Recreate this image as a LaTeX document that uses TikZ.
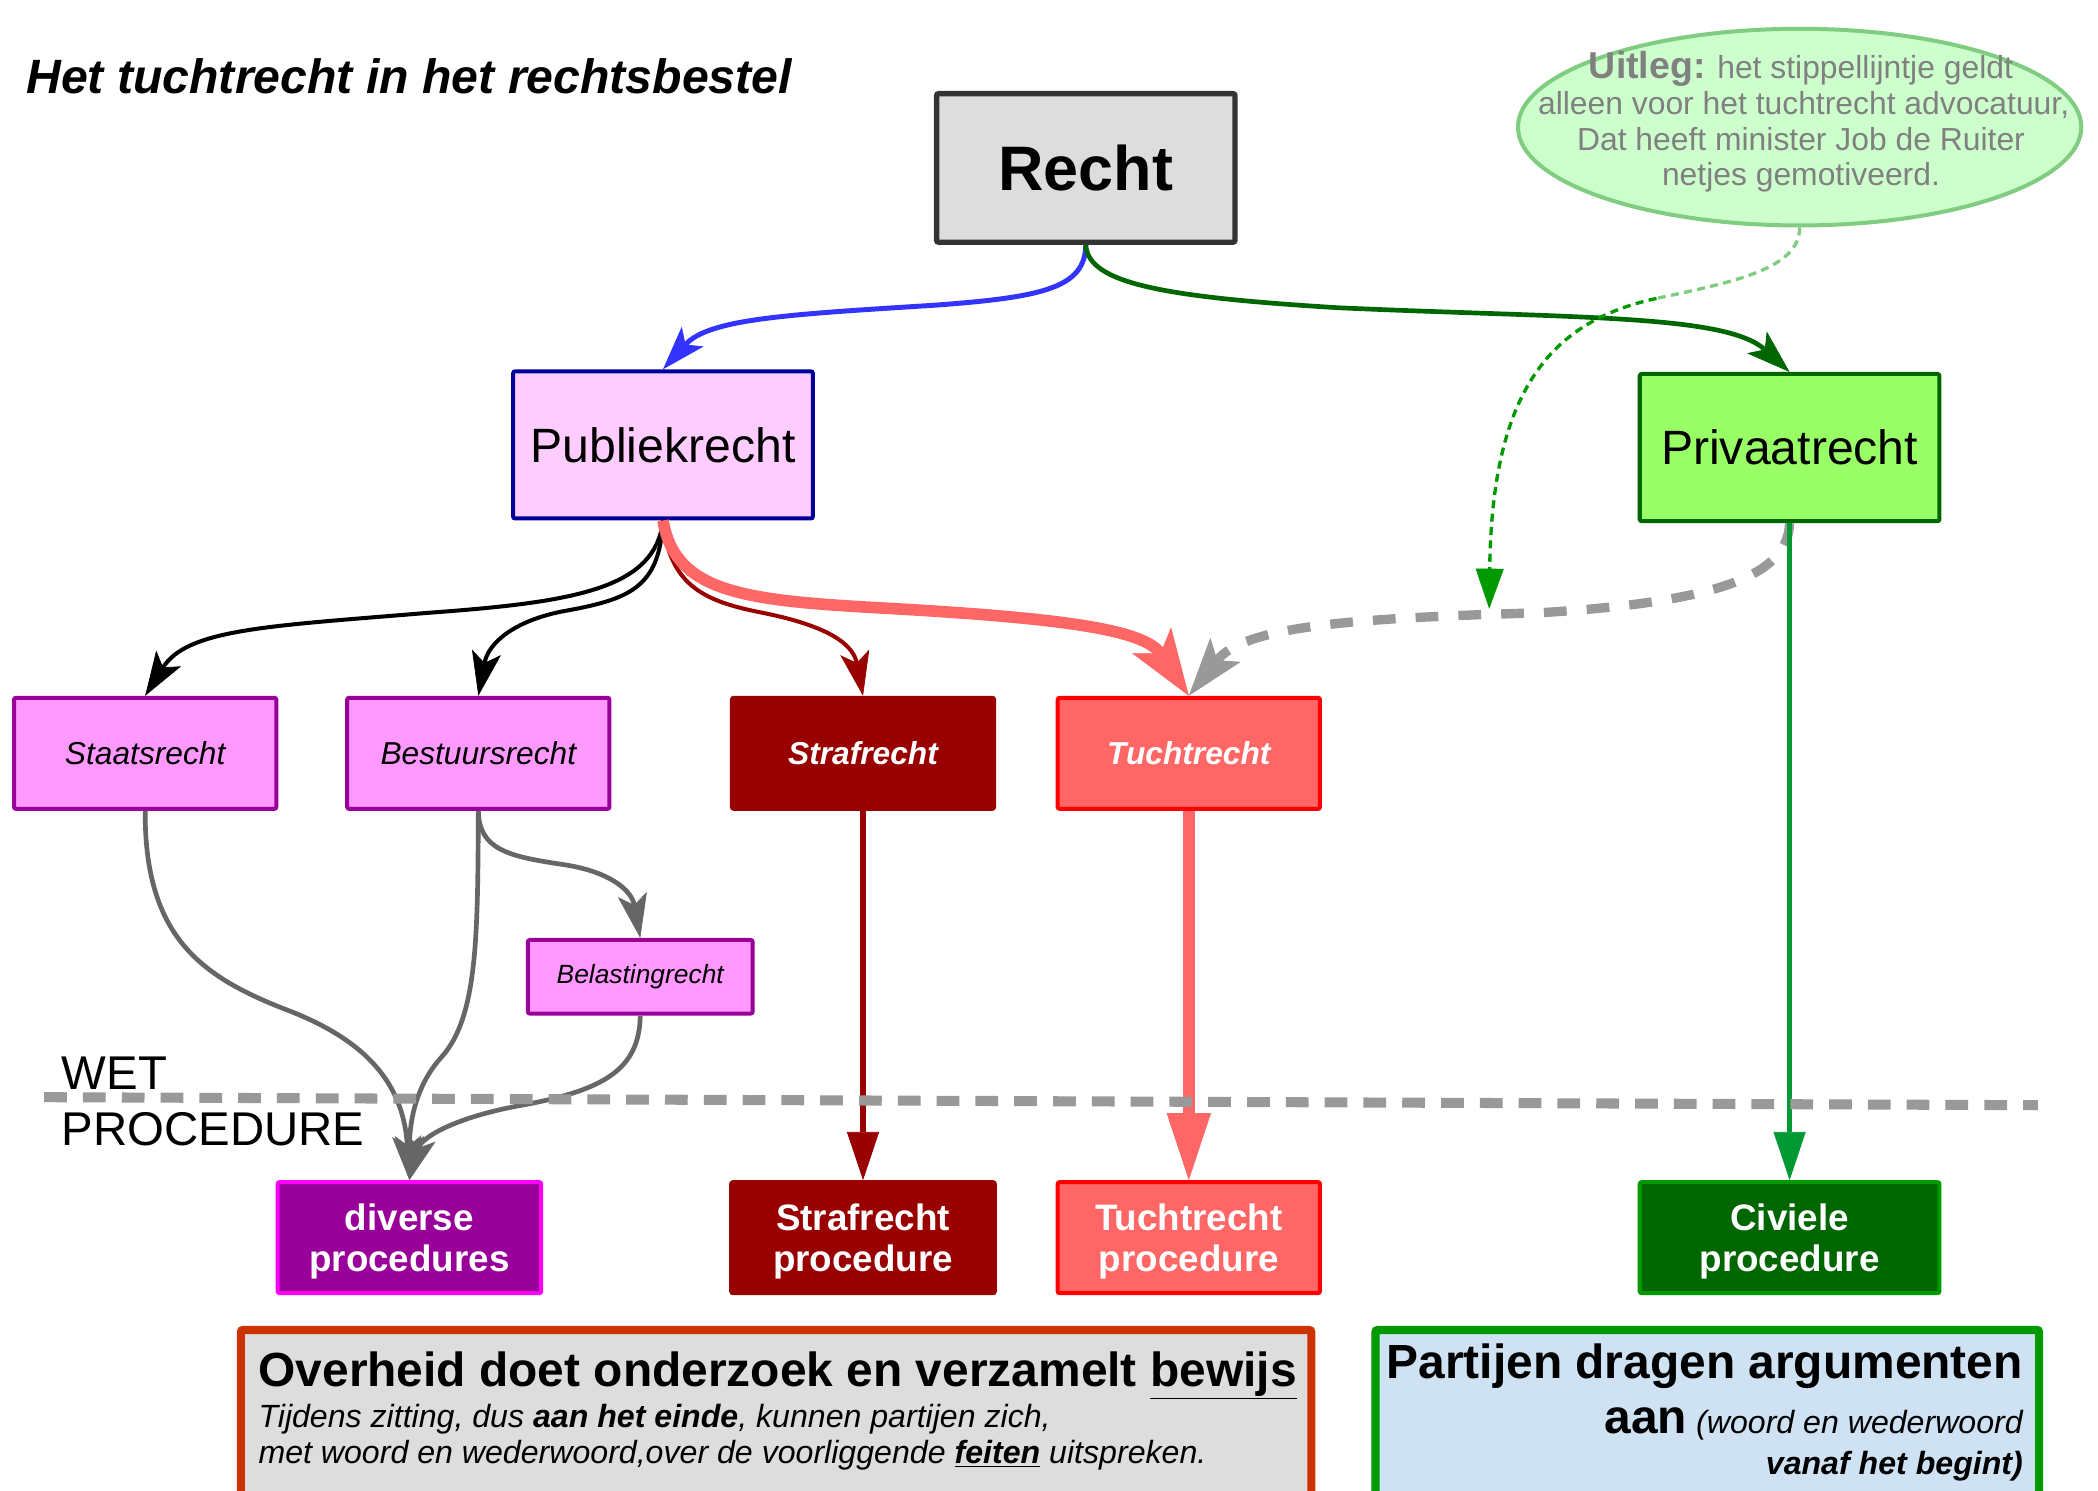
\documentclass[tikz,border=0pt]{standalone}
\usepackage{fontspec}
\setmainfont{Liberation Sans}
\usetikzlibrary{arrows.meta,shapes.geometric}

\definecolor{cRecht}{HTML}{DDDDDD}
\definecolor{cRechtL}{HTML}{333333}
\definecolor{cPub}{HTML}{FFCCFF}
\definecolor{cPubL}{HTML}{000099}
\definecolor{cPriv}{HTML}{99FF66}
\definecolor{cPrivL}{HTML}{006600}
\definecolor{cSub}{HTML}{FF99FF}
\definecolor{cSubL}{HTML}{990099}
\definecolor{cStraf}{HTML}{990000}
\definecolor{cTucht}{HTML}{FF6666}
\definecolor{cTuchtL}{HTML}{FF0000}
\definecolor{cDiv}{HTML}{990099}
\definecolor{cDivL}{HTML}{FF00FF}
\definecolor{cCiv}{HTML}{006600}
\definecolor{cCivL}{HTML}{009900}
\definecolor{cOvhL}{HTML}{CC3300}
\definecolor{cPar}{HTML}{CFE2F3}
\definecolor{cParL}{HTML}{009900}
\definecolor{cUitleg}{HTML}{CCFFCC}
\definecolor{cUitlegL}{HTML}{80CC80}
\definecolor{cUitlegT}{HTML}{808080}
\definecolor{cBlue}{HTML}{3333FF}
\definecolor{cGreenA}{HTML}{006600}
\definecolor{cCivA}{HTML}{009933}
\definecolor{cDot}{HTML}{009900}
\definecolor{cDash}{HTML}{999999}
\definecolor{cGrayA}{HTML}{666666}

\begin{document}
\begin{tikzpicture}[x=1pt,y=-1pt,
  box/.style={rectangle, inner sep=0pt, line width=3pt, rounded corners=1.5pt},
  sub/.style={box, minimum width=196pt, minimum height=83pt, font=\fontsize{23.7}{28}\selectfont\itshape},
  proc/.style={box, minimum height=83pt},
  proctext/.style={inner sep=0pt, align=center, text=white, font=\fontsize{27.5}{31}\selectfont\bfseries},
  tipM/.style={-{Stealth[length=33pt,width=22pt,inset=8pt,line width=0.5pt]}},
  tipL/.style={-{Stealth[length=50pt,width=35pt,inset=12pt,line width=0.5pt]}},
  tipG/.style={-{Stealth[length=44pt,width=29pt,inset=10pt,line width=0.5pt]}},
  tipT/.style={-{Triangle[length=36pt,width=24pt,line width=0.5pt]}},
  tipTL/.style={-{Triangle[length=50pt,width=33pt,line width=0.5pt]}},
  tipD/.style={-{Triangle[length=30pt,width=21pt,line width=0.5pt]}},
  grayconn/.style={cGrayA, line width=3.5pt, tipM},
  blackconn/.style={black, line width=3pt, tipM},
  bubbletext/.style={anchor=base, inner sep=0pt, text=cUitlegT, font=\fontsize{23.8}{27}\selectfont},
  plain/.style={inner sep=0pt}
]
\clip (0,0) rectangle (1568,1114);
\fill[white] (0,0) rectangle (1568,1114);

% title
\node[plain, anchor=base west, font=\fontsize{36}{40}\selectfont\bfseries\itshape] (title) at (19.5,69.7) {Het tuchtrecht in het rechtsbestel};

% explanation bubble
\node[ellipse, draw=cUitlegL, fill=cUitleg, line width=3pt, minimum width=421pt, minimum height=147pt, inner sep=0pt] (uitleg) at (1345,95) {};
\node[bubbletext] (u1) at (1346,58.5) {{\fontsize{28}{27}\selectfont\bfseries Uitleg:} het stippellijntje geldt};
\node[bubbletext] (u2) at (1348,85.5) {alleen voor het tuchtrecht advocatuur,};
\node[bubbletext] (u3) at (1346,112.5) {Dat heeft minister Job de Ruiter};
\node[bubbletext] (u4) at (1346,139) {netjes gemotiveerd.};

% main hierarchy
\node[box, draw=cRechtL, fill=cRecht, line width=4pt, minimum width=223pt, minimum height=111pt, font=\fontsize{47}{50}\selectfont\bfseries] (recht) at (811.5,125.5) {Recht};
\node[box, draw=cPubL, fill=cPub, minimum width=224pt, minimum height=110pt, font=\fontsize{36}{40}\selectfont] (publiek) at (495.5,332.5) {Publiekrecht};
\node[box, draw=cPrivL, fill=cPriv, minimum width=224pt, minimum height=110pt, font=\fontsize{36}{40}\selectfont] (privaat) at (1337.5,334.5) {Privaatrecht};

\node[sub, draw=cSubL, fill=cSub] (staats) at (108.5,563) {Staatsrecht};
\node[sub, draw=cSubL, fill=cSub] (bestuur) at (357.5,563) {Bestuursrecht};
\node[sub, draw=cStraf, fill=cStraf, text=white, font=\fontsize{23.7}{28}\selectfont\bfseries\itshape] (straf) at (645,563) {Strafrecht};
\node[sub, draw=cTuchtL, fill=cTucht, text=white, font=\fontsize{23.7}{28}\selectfont\bfseries\itshape] (tucht) at (888.5,563) {Tuchtrecht};
\node[box, draw=cSubL, fill=cSub, minimum width=168pt, minimum height=55pt, font=\fontsize{19.7}{24}\selectfont\itshape] (belasting) at (478.5,730) {Belastingrecht};

% procedure boxes and their labels
\node[proc, draw=cDivL, fill=cDiv, minimum width=197pt] (diverse) at (306,925) {};
\node[proc, draw=cStraf, fill=cStraf, minimum width=197pt] (strafp) at (645,925) {};
\node[proc, draw=cTuchtL, fill=cTucht, minimum width=196pt] (tuchtp) at (888.5,925) {};
\node[proc, draw=cCivL, fill=cCiv, minimum width=224pt] (civiel) at (1337.5,925) {};
\node[proctext] (diverseT) at (306,928) {diverse\\procedures};
\node[proctext] (strafpT) at (645,928) {Strafrecht\\procedure};
\node[proctext] (tuchtpT) at (888.5,928) {Tuchtrecht\\procedure};
\node[proctext] (civielT) at (1337.5,928) {Civiele\\procedure};

% bottom explanation boxes
\node[box, draw=cOvhL, fill=cRecht, line width=6pt, minimum width=800pt, minimum height=140pt, anchor=north] (overheid) at (580,991) {};
\node[plain, anchor=base west, font=\fontsize{35.8}{40}\selectfont\bfseries] (ov1) at (193,1036) {Overheid doet onderzoek en verzamelt \underline{bewijs}};
\node[plain, anchor=base west, font=\fontsize{24}{28}\selectfont\itshape] (ov2) at (193,1066.5) {Tijdens zitting, dus \textbf{aan het einde}, kunnen partijen zich,};
\node[plain, anchor=base west, font=\fontsize{24}{28}\selectfont\itshape] (ov3) at (193,1094) {met woord en wederwoord,over de voorliggende \underline{\textbf{feiten}} uitspreken.};

\node[box, draw=cParL, fill=cPar, line width=6pt, minimum width=496pt, minimum height=140pt, anchor=north] (partijen) at (1276,991) {};
\node[plain, anchor=base east, font=\fontsize{35.8}{40}\selectfont\bfseries] (pa1) at (1512,1030) {Partijen dragen argumenten};
\node[plain, anchor=base east, font=\fontsize{24}{28}\selectfont\itshape] (pa2) at (1512,1071) {{\fontsize{35.8}{40}\selectfont\bfseries\upshape aan} (woord en wederwoord};
\node[plain, anchor=base east, font=\fontsize{24}{28}\selectfont\bfseries\itshape] (pa3) at (1512,1102) {vanaf het begint)};

% connectors from Recht
\draw[cBlue, line width=3.7pt, tipM] (recht.south) .. controls (811,215) and (780,222) .. (700,228) .. controls (590,235) and (530,238) .. (publiek.north);
\draw[cGreenA, line width=3.5pt, tipM] (recht.south) .. controls (813,212) and (870,222) .. (1000,230) .. controls (1180,238) and (1290,235) .. (privaat.north);

% connectors from Publiekrecht
\draw[blackconn] (publiek.south) .. controls (490,440) and (430,450) .. (320,458) .. controls (200,468) and (140,470) .. (staats.north);
\draw[blackconn] (publiek.south) .. controls (493,440) and (470,448) .. (420,457) .. controls (385,464) and (365,480) .. (bestuur.north);
\draw[cStraf, line width=3pt, tipM] (publiek.south) .. controls (500,440) and (530,450) .. (570,458) .. controls (610,466) and (637,478) .. (straf.north);
\draw[cTucht, line width=8.7pt, tipL] (publiek.south) .. controls (505,445) and (560,449) .. (670,455) .. controls (790,462) and (855,470) .. (tucht.north);

% Privaatrecht also feeds Tuchtrecht
\draw[cDash, line width=7pt, dash pattern=on 17pt off 15pt, tipG] (privaat.south) .. controls (1336,430) and (1285,450) .. (1150,458) .. controls (1010,462) and (930,468) .. (tucht.north);

% pointer from the bubble
\coordinate (gmid) at (1238,223);
\coordinate (gtip) at (1113,455);
\draw[cUitlegL, line width=2.5pt, dash pattern=on 6pt off 4pt] (uitleg.south) .. controls (1345,200) and (1300,210) .. (gmid);
\draw[cDot, line width=2.5pt, dash pattern=on 6pt off 4pt, tipD] (gmid) .. controls (1160,240) and (1115,290) .. (gtip);

% lower connectors
\draw[grayconn] (staats.south) .. controls (108,700) and (150,730) .. (215,755) .. controls (280,780) and (302,815) .. (diverse.north);
\draw[grayconn] (bestuur.south) .. controls (357,700) and (357,760) .. (330,790) .. controls (310,812) and (306,840) .. (diverse.north);
\draw[grayconn] (bestuur.south) .. controls (358,635) and (380,640) .. (420,646) .. controls (455,651) and (472,665) .. (belasting.north);
\draw[grayconn] (belasting.south) .. controls (478,800) and (450,815) .. (390,826) .. controls (340,835) and (315,850) .. (diverse.north);

\draw[cStraf, line width=4pt, tipT] (straf.south) -- (strafp.north);
\draw[cTucht, line width=8.7pt, tipTL] (tucht.south) -- (tuchtp.north);
\draw[cCivA, line width=4pt, tipT] (privaat.south) -- (civiel.north);

% boundary between law and procedure
\coordinate (wetL) at (33,820);
\coordinate (wetR) at (1523,826);
\draw[cDash, line width=7.5pt, dash pattern=on 17pt off 12pt] (wetL) -- (wetR);
\node[plain, anchor=west, font=\fontsize{35.4}{40}\selectfont] (wet) at (46,802) {WET};
\node[plain, anchor=west, font=\fontsize{35.4}{40}\selectfont] (proc) at (46,844) {PROCEDURE};
\end{tikzpicture}
\end{document}
